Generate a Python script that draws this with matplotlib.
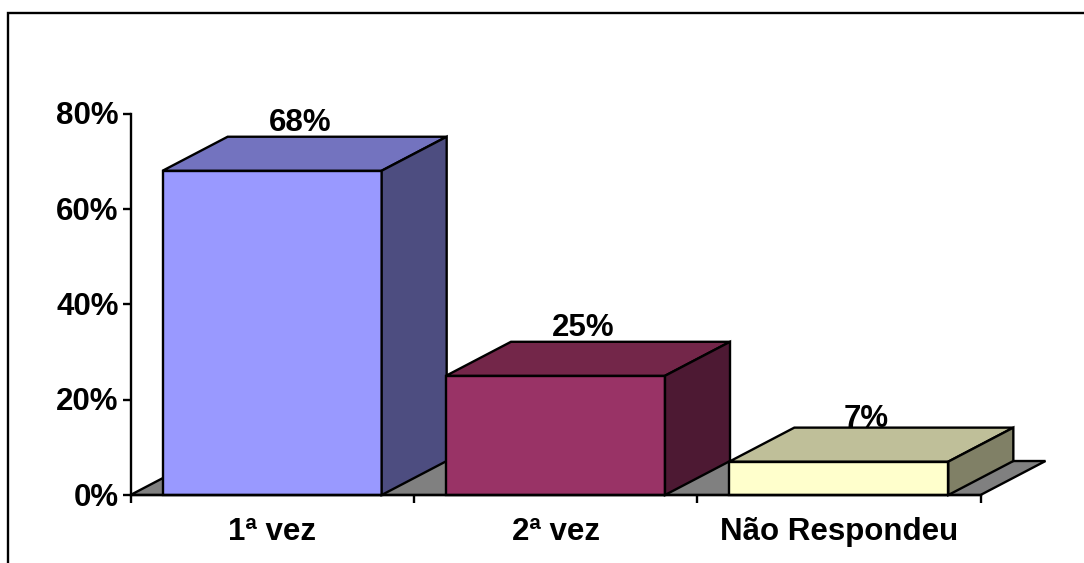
#!/usr/bin/env python3
"""Pseudo-3D column chart, drawn with polygons on a normal axes."""

import matplotlib
matplotlib.use('Agg')
import matplotlib.pyplot as plt
from matplotlib.patches import Polygon, Rectangle

categories = ["1ª vez", "2ª vez", "Não Respondeu"]
values = [68, 25, 7]
value_labels = ["68%", "25%", "7%"]
y_ticks = [0, 20, 40, 60, 80]
y_tick_labels = ["0%", "20%", "40%", "60%", "80%"]
front_colors = ["#9999FF", "#993366", "#FFFFCC"]
top_colors = ["#7373BF", "#732649", "#BFBF99"]
side_colors = ["#4D4D80", "#4D1933", "#808066"]

W, H = 1084, 563
AX_LEFT, AX_RIGHT = 130.5, 980.5
AX_TOP, AX_BOTTOM = 113.5, 495.0
BAR_WIDTH = 0.773
DEPTH_X = 65 / 283.33
DEPTH_Y = 34 / 4.77
FONT = "Liberation Sans"
LW = 1.7
LABEL_NUDGE = [-1, -1, -6]  # px, the 7% label sits lower than the others

fig = plt.figure(figsize=(W / 100, H / 100), dpi=100)
fig.add_artist(Rectangle((8 / W, -0.02), (W + 20) / W, 1 - 13 / H + 0.02,
                         transform=fig.transFigure, fill=False,
                         edgecolor="black", linewidth=LW))

ax = fig.add_axes([AX_LEFT / W, 1 - AX_BOTTOM / H,
                   (AX_RIGHT - AX_LEFT) / W, (AX_BOTTOM - AX_TOP) / H])
ax.patch.set_visible(False)
ax.set_xlim(0, 3)
ax.set_ylim(0, 80)

ax.spines["top"].set_visible(False)
ax.spines["right"].set_visible(False)
ax.spines["left"].set_linewidth(LW)
ax.spines["bottom"].set_linewidth(LW)
ax.spines["left"].set_zorder(1)
ax.spines["bottom"].set_zorder(6)

# floor
ax.add_patch(Polygon([(0, 0), (DEPTH_X, DEPTH_Y), (3 + DEPTH_X, DEPTH_Y), (3, 0)],
                     closed=True, facecolor="#808080", edgecolor="black",
                     linewidth=LW, clip_on=False, zorder=2))

# labels sit behind the bars, the low one gets cut by its top face
for i, (v, lab) in enumerate(zip(values, value_labels)):
    ax.annotate(lab, (i + 0.5 + DEPTH_X / 2, v + DEPTH_Y), xytext=(-3.5, LABEL_NUDGE[i] * 0.72),
                textcoords="offset points", ha="center", va="bottom",
                fontsize=22.5, fontweight="bold", family=FONT, zorder=3,
                annotation_clip=False)

for i, v in enumerate(values):
    x0 = i + (1 - BAR_WIDTH) / 2
    x1 = x0 + BAR_WIDTH
    ax.add_patch(Polygon([(x0, 0), (x0, v), (x1, v), (x1, 0)], closed=True,
                         facecolor=front_colors[i], edgecolor="black",
                         linewidth=LW, clip_on=False, zorder=4))
    ax.add_patch(Polygon([(x0, v), (x0 + DEPTH_X, v + DEPTH_Y),
                          (x1 + DEPTH_X, v + DEPTH_Y), (x1, v)], closed=True,
                         facecolor=top_colors[i], edgecolor="black",
                         linewidth=LW, clip_on=False, zorder=4))
    ax.add_patch(Polygon([(x1, 0), (x1, v), (x1 + DEPTH_X, v + DEPTH_Y),
                          (x1 + DEPTH_X, DEPTH_Y)], closed=True,
                         facecolor=side_colors[i], edgecolor="black",
                         linewidth=LW, clip_on=False, zorder=4))

ax.set_yticks(y_ticks)
ax.set_yticklabels([])
for v, lab in zip(y_ticks, y_tick_labels):
    ax.annotate(lab, (0, v), xytext=(-8.5, -2), textcoords="offset points",
                ha="right", va="center", fontsize=22.5, fontweight="bold", family=FONT,
                annotation_clip=False)
ax.set_xticks([0, 1, 2, 3])
ax.set_xticklabels([])
ax.tick_params(axis="both", width=LW, length=5.5, color="black")

for i, cat in enumerate(categories):
    ax.annotate(cat, (i + 0.5, 0), xytext=(0, -16), textcoords="offset points",
                ha="center", va="top", fontsize=22.5, fontweight="bold", family=FONT,
                annotation_clip=False)

fig.savefig("out.png", dpi=100)
plt.close(fig)
